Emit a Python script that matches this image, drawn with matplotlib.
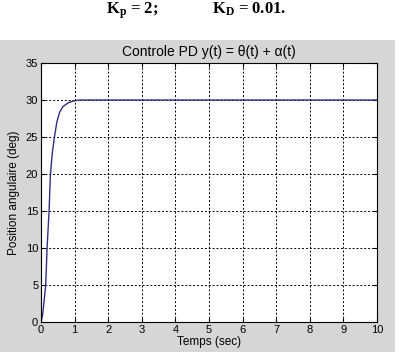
import matplotlib.pyplot as plt
from matplotlib.patches import Rectangle

plt.rcParams['font.family'] = ['Liberation Sans', 'DejaVu Sans']
plt.rcParams['mathtext.fontset'] = 'custom'
plt.rcParams['mathtext.rm'] = 'Liberation Serif'
plt.rcParams['mathtext.bf'] = 'Liberation Serif:bold'

# step response
t = [0, 0.05, 0.14, 0.18, 0.24, 0.28, 0.34, 0.40, 0.47, 0.55, 0.65, 0.8, 0.95, 1.1, 1.2, 10]
y = [0, 1.0, 5.0, 10.0, 15.0, 20.0, 23.0, 25.0, 27.0, 28.3, 29.1, 29.6, 29.85, 29.97, 30.0, 30.0]

xticks = list(range(0, 11))
yticks = list(range(0, 36, 5))

fig = plt.figure(figsize=(3.99, 3.52), dpi=100, facecolor='white')
fig.patches.append(Rectangle((0, 0), 0.99, 0.886, transform=fig.transFigure,
                             facecolor='#d6d6d6', edgecolor='none', zorder=-1))

fig.text(0.265, 0.962, r'$\mathbf{K_p}$ = 2;', fontsize=12, fontweight='bold',
         family='Liberation Serif', va='baseline', ha='left')
fig.text(0.532, 0.962, r'$\mathbf{K_D}$ = 0.01.', fontsize=12, fontweight='bold',
         family='Liberation Serif', va='baseline', ha='left')

ax = fig.add_axes([0.1028, 0.0852, 0.842, 0.7358])
ax.plot(t, y, color='#2f2f80', linewidth=1.0)
ax.set_xlim(0, 10)
ax.set_ylim(0, 35)
ax.set_xticks(xticks)
ax.set_yticks(yticks)
ax.tick_params(labelsize=8, length=3, direction='in', pad=2, top=True, right=True)
ax.grid(True, color='black', linestyle=(0, (2, 2)), linewidth=0.7)
for s in ax.spines.values():
    s.set_linewidth(0.8)
ax.set_title(u'Controle PD y(t) = \u03b8(t) + \u03b1(t)', fontsize=10, pad=5)
ax.set_xlabel('Temps (sec)', fontsize=8.5, labelpad=1)
ax.set_ylabel('Position angulaire (deg)', fontsize=8.5, labelpad=4)

fig.savefig('out.png', dpi=100, facecolor=fig.get_facecolor())
